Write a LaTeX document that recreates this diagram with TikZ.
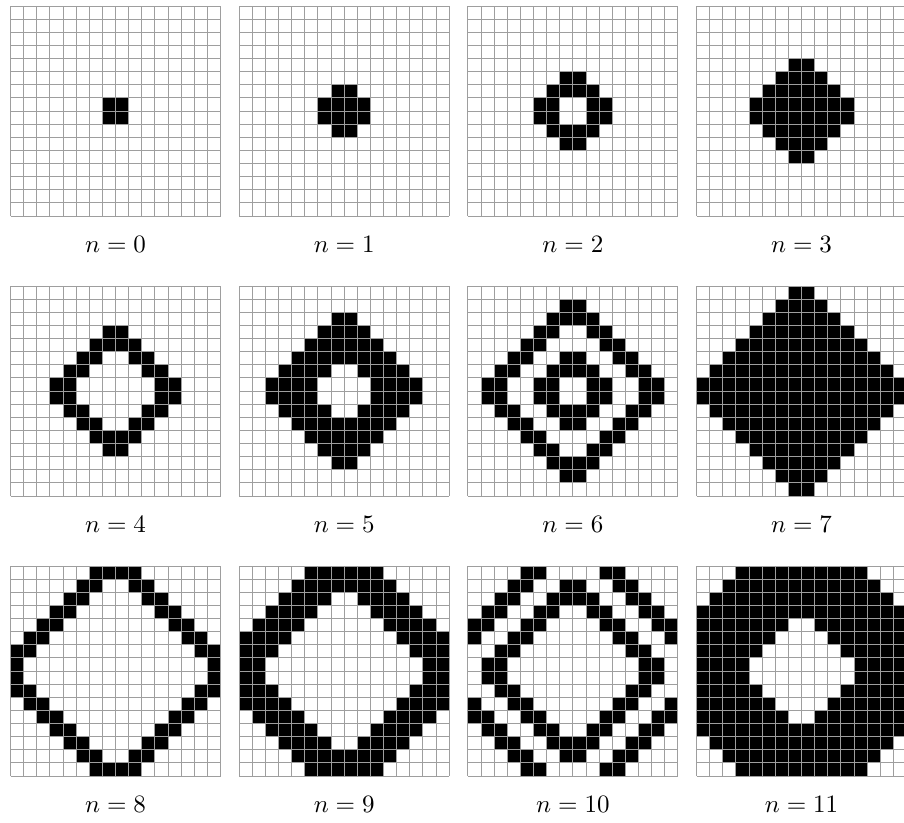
\documentclass[tikz,border=0pt]{standalone}
\definecolor{gridgray}{RGB}{158,158,158}
\tikzset{
  gridline/.style={draw=gridgray, line width=0.4pt},
  cellfill/.style={fill=black},
  caption/.style={inner sep=0pt, font=\normalsize}
}
\newcommand\cellsz{13.125}
\newcommand\cagrid[5]{% #1 x0, #2 y0, #3 cells, #4 label, #5 name
  \begin{scope}[shift={(#1,#2)}]
    \foreach \r/\a/\b in {#3}
      \path[cellfill] ({\a*\cellsz},{\r*\cellsz}) rectangle ({(\b+1)*\cellsz},{(\r+1)*\cellsz});
    \foreach \k in {0,...,16} {
      \draw[gridline] ({\k*\cellsz},0) -- ({\k*\cellsz},210);
      \draw[gridline] (0,{\k*\cellsz}) -- (210,{\k*\cellsz});
    }
    \node[caption] (#5) at (105,238) {$n=#4$};
  \end{scope}}
\begin{document}
\begin{tikzpicture}[x=0.4pt,y=-0.4pt]
\useasboundingbox (0,0) rectangle (904,822);
% row 1
\cagrid{10.5}{6}{7/7/8, 8/7/8}{0}{l0}
\cagrid{239.2}{6}{6/7/8, 7/6/9, 8/6/9, 9/7/8}{1}{l1}
\cagrid{467.9}{6}{5/7/8, 6/6/9, 7/5/6, 7/9/10, 8/5/6, 8/9/10, 9/6/9, 10/7/8}{2}{l2}
\cagrid{696.6}{6}{4/7/8, 5/6/9, 6/5/10, 7/4/11, 8/4/11, 9/5/10, 10/6/9, 11/7/8}{3}{l3}
% row 2
\cagrid{10.5}{286}{3/7/8, 4/6/9, 5/5/6, 5/9/10, 6/4/5, 6/10/11, 7/3/4, 7/11/12, 8/3/4, 8/11/12, 9/4/5, 9/10/11, 10/5/6, 10/9/10, 11/6/9, 12/7/8}{4}{l4}
\cagrid{239.2}{286}{2/7/8, 3/6/9, 4/5/10, 5/4/11, 6/3/6, 6/9/12, 7/2/5, 7/10/13, 8/2/5, 8/10/13, 9/3/6, 9/9/12, 10/4/11, 11/5/10, 12/6/9, 13/7/8}{5}{l5}
\cagrid{467.9}{286}{1/7/8, 2/6/9, 3/5/6, 3/9/10, 4/4/5, 4/10/11, 5/3/4, 5/7/8, 5/11/12, 6/2/3, 6/6/9, 6/12/13, 7/1/2, 7/5/6, 7/9/10, 7/13/14, 8/1/2, 8/5/6, 8/9/10, 8/13/14, 9/2/3, 9/6/9, 9/12/13, 10/3/4, 10/7/8, 10/11/12, 11/4/5, 11/10/11, 12/5/6, 12/9/10, 13/6/9, 14/7/8}{6}{l6}
\cagrid{696.6}{286}{0/7/8, 1/6/9, 2/5/10, 3/4/11, 4/3/12, 5/2/13, 6/1/14, 7/0/15, 8/0/15, 9/1/14, 10/2/13, 11/3/12, 12/4/11, 13/5/10, 14/6/9, 15/7/8}{7}{l7}
% row 3
\cagrid{10.5}{566}{0/6/9, 1/5/6, 1/9/10, 2/4/5, 2/10/11, 3/3/4, 3/11/12, 4/2/3, 4/12/13, 5/1/2, 5/13/14, 6/0/1, 6/14/15, 7/0/0, 7/15/15, 8/0/0, 8/15/15, 9/0/1, 9/14/15, 10/1/2, 10/13/14, 11/2/3, 11/12/13, 12/3/4, 12/11/12, 13/4/5, 13/10/11, 14/5/6, 14/9/10, 15/6/9}{8}{l8}
\cagrid{239.2}{566}{0/5/10, 1/4/11, 2/3/6, 2/9/12, 3/2/5, 3/10/13, 4/1/4, 4/11/14, 5/0/3, 5/12/15, 6/0/2, 6/13/15, 7/0/1, 7/14/15, 8/0/1, 8/14/15, 9/0/2, 9/13/15, 10/0/3, 10/12/15, 11/1/4, 11/11/14, 12/2/5, 12/10/13, 13/3/6, 13/9/12, 14/4/11, 15/5/10}{9}{l9}
\cagrid{467.9}{566}{0/4/5, 0/10/11, 1/3/4, 1/7/8, 1/11/12, 2/2/3, 2/6/9, 2/12/13, 3/1/2, 3/5/6, 3/9/10, 3/13/14, 4/0/1, 4/4/5, 4/10/11, 4/14/15, 5/0/0, 5/3/4, 5/11/12, 5/15/15, 6/2/3, 6/12/13, 7/1/2, 7/13/14, 8/1/2, 8/13/14, 9/2/3, 9/12/13, 10/0/0, 10/3/4, 10/11/12, 10/15/15, 11/0/1, 11/4/5, 11/10/11, 11/14/15, 12/1/2, 12/5/6, 12/9/10, 12/13/14, 13/2/3, 13/6/9, 13/12/13, 14/3/4, 14/7/8, 14/11/12, 15/4/5, 15/10/11}{10}{l10}
\cagrid{696.6}{566}{0/3/12, 1/2/13, 2/1/14, 3/0/15, 4/0/6, 4/9/15, 5/0/5, 5/10/15, 6/0/4, 6/11/15, 7/0/3, 7/12/15, 8/0/3, 8/12/15, 9/0/4, 9/11/15, 10/0/5, 10/10/15, 11/0/6, 11/9/15, 12/0/15, 13/1/14, 14/2/13, 15/3/12}{11}{l11}
\end{tikzpicture}
\end{document}
